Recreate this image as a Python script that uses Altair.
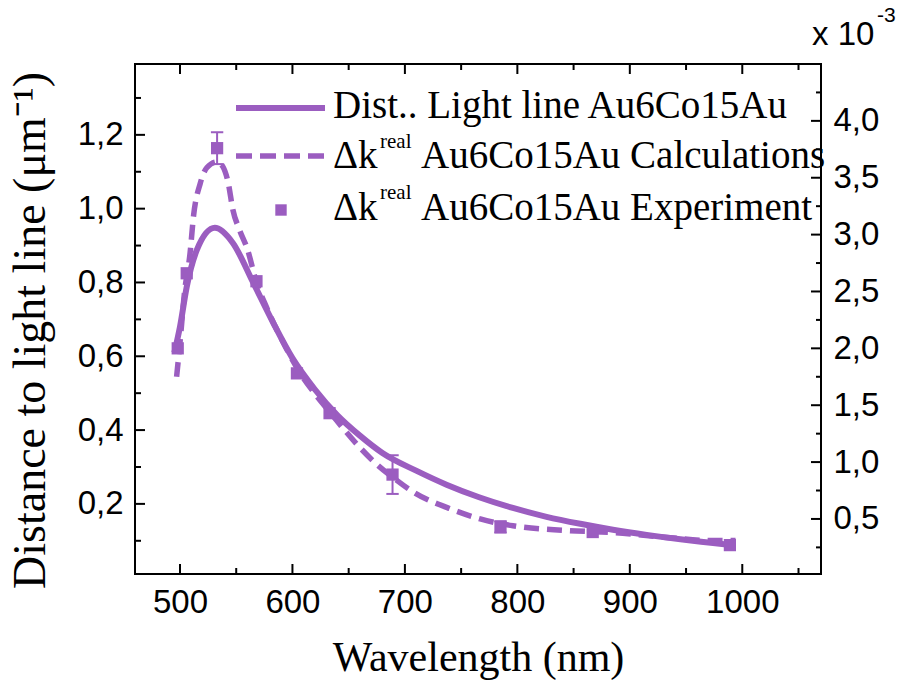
import altair as alt
import pandas as pd

# ---------------- data ----------------
# Distance to light line (left axis, um^-1)
wl_dist = [495, 500, 506, 515, 531, 547, 565, 583, 600, 620, 640, 660, 680, 710, 737, 766, 796,
           826, 856, 885, 915, 945, 974, 994]
dist = [0.61, 0.68, 0.788, 0.888, 0.948, 0.907, 0.80, 0.69, 0.595, 0.51, 0.44, 0.385, 0.338, 0.29,
        0.252, 0.218, 0.189, 0.165, 0.146, 0.13, 0.116, 0.104, 0.094, 0.087]

# Delta k real calculations (right axis, x 10^-3)
wl_calc = [497, 500, 504, 509, 512, 518, 524, 533, 538, 543, 547, 553, 560, 568, 577,
           595, 607, 620, 634, 657, 675, 690, 707, 743, 767, 796, 841, 885, 930, 974, 994]
calc = [1.75, 2.05, 2.49, 2.84, 3.16, 3.45, 3.59, 3.64, 3.60, 3.45, 3.22, 3.04, 2.87, 2.58, 2.36,
        1.99, 1.78, 1.60, 1.43, 1.16, 0.98, 0.86, 0.74, 0.58, 0.50, 0.44, 0.40, 0.38, 0.34, 0.31, 0.31]

# Delta k real experiment (right axis, x 10^-3)
wl_exp = [498, 506, 533, 568, 604, 633, 689, 785, 867, 989]
exp_val = [2.0, 2.66, 3.76, 2.59, 1.78, 1.43, 0.89, 0.43, 0.385, 0.27]
exp_err = [0, 0, 0.14, 0, 0, 0, 0.17, 0.05, 0, 0]

# tick values
x_major = [500, 600, 700, 800, 900, 1000]
x_minor = [550, 650, 750, 850, 950, 1050]
left_major = [0.2, 0.4, 0.6, 0.8, 1.0, 1.2]
left_minor = [0.1, 0.3, 0.5, 0.7, 0.9, 1.1, 1.3]
right_major = [0.5, 1.0, 1.5, 2.0, 2.5, 3.0, 3.5, 4.0]
right_minor = [0.25, 0.75, 1.25, 1.75, 2.25, 2.75, 3.25, 3.75, 4.25]

legend_labels = ["Dist.. Light line Au6Co15Au", "Au6Co15Au Calculations", "Au6Co15Au Experiment"]

# ---------------- styling ----------------
PURPLE = "#9B5DC0"
W, H = 686, 510
SERIF = "Liberation Serif"
SANS = "Liberation Sans"

x_scale = alt.Scale(domain=[460, 1070], nice=False, zero=False)
yl_scale = alt.Scale(domain=[0.01, 1.392], nice=False, zero=False)
yr_scale = alt.Scale(domain=[0.016, 4.50], nice=False, zero=False)

comma_fmt = "replace(format(datum.value, '.1f'), '.', ',')"

# the same axis objects are reused in every layer so that they merge cleanly
ax_x = alt.Axis(values=x_major, format="d", title="Wavelength (nm)",
                titleFontSize=42, titleY=96, titleBaseline="alphabetic")
ax_left = alt.Axis(orient="left", values=left_major, labelExpr=comma_fmt,
                   title="Distance to light line (μm⁻¹)", titleFontSize=46,
                   titleAngle=270, titleX=-91, titleY=266,
                   titleAlign="center", titleBaseline="alphabetic")
ax_right = alt.Axis(orient="right", values=right_major, labelExpr=comma_fmt, title="")

dist_df = pd.DataFrame({"wl": wl_dist, "d": dist})
calc_df = pd.DataFrame({"wl": wl_calc, "k": calc})
exp_df = pd.DataFrame({"wl": wl_exp, "k": exp_val, "err": exp_err})

one = alt.Data(values=[{"a": 1}])

# ---------------- left (distance) layers ----------------
solid = alt.Chart(dist_df).mark_line(
    color=PURPLE, strokeWidth=6, interpolate="monotone"
).encode(
    x=alt.X("wl:Q", scale=x_scale, axis=ax_x),
    y=alt.Y("d:Q", scale=yl_scale, axis=ax_left),
)


def yticks(vals, scale, ax, x0, x1):
    return alt.Chart(pd.DataFrame({"v": vals})).mark_rule(color="black", strokeWidth=2).encode(
        y=alt.Y("v:Q", scale=scale, axis=ax), x=alt.value(x0), x2=alt.value(x1))


def xticks(vals, y0, y1):
    return alt.Chart(pd.DataFrame({"v": vals})).mark_rule(color="black", strokeWidth=2).encode(
        x=alt.X("v:Q", scale=x_scale, axis=ax_x), y=alt.value(y0), y2=alt.value(y1))


def txt(s, x, y, size, font=SERIF):
    return alt.Chart(one).mark_text(
        text=s, font=font, fontSize=size, align="left", baseline="alphabetic", color="black"
    ).encode(x=alt.value(x), y=alt.value(y))


legend_layers = [
    alt.Chart(one).mark_rule(color=PURPLE, strokeWidth=6).encode(
        x=alt.value(101), x2=alt.value(190), y=alt.value(44)),
    txt(legend_labels[0], 198, 54, 39),
    alt.Chart(one).mark_rule(color=PURPLE, strokeWidth=5.5, strokeDash=[16, 8]).encode(
        x=alt.value(101), x2=alt.value(190), y=alt.value(92)),
    txt("Δk", 198, 104, 39),
    txt("real", 245, 84, 21),
    txt(legend_labels[1], 286, 104, 39),
    alt.Chart(one).mark_point(shape="square", filled=True, size=130, color=PURPLE, opacity=1).encode(
        x=alt.value(146), y=alt.value(146)),
    txt("Δk", 198, 156, 39),
    txt("real", 245, 135, 21),
    txt(legend_labels[2], 286, 156, 39),
    txt("x 10", 677, -19, 33, SANS),
    txt("-3", 742, -42, 21, SANS),
]

left = alt.layer(
    solid,
    yticks(left_major, yl_scale, ax_left, 0, 10),
    yticks(left_minor, yl_scale, ax_left, 0, 6),
    xticks(x_major, H, H - 10),
    xticks(x_minor, H, H - 6),
    xticks(x_major, 0, 10),
    xticks(x_minor, 0, 6),
    *legend_layers,
)

# ---------------- right (delta k) layers ----------------
dashed = alt.Chart(calc_df).mark_line(
    color=PURPLE, strokeWidth=5.5, strokeDash=[15, 8], interpolate="monotone"
).encode(
    x=alt.X("wl:Q", scale=x_scale, axis=ax_x),
    y=alt.Y("k:Q", scale=yr_scale, axis=ax_right),
)

err_base = alt.Chart(exp_df).transform_filter("datum.err > 0").transform_calculate(
    lo="datum.k - datum.err", hi="datum.k + datum.err",
    xl="datum.wl - 5.5", xr="datum.wl + 5.5")

err_v = err_base.mark_rule(color=PURPLE, strokeWidth=2).encode(
    x=alt.X("wl:Q", scale=x_scale, axis=ax_x),
    y=alt.Y("lo:Q", scale=yr_scale, axis=ax_right), y2="hi:Q")
cap_top = err_base.mark_rule(color=PURPLE, strokeWidth=2).encode(
    x=alt.X("xl:Q", scale=x_scale, axis=ax_x), x2="xr:Q",
    y=alt.Y("hi:Q", scale=yr_scale, axis=ax_right))
cap_bot = err_base.mark_rule(color=PURPLE, strokeWidth=2).encode(
    x=alt.X("xl:Q", scale=x_scale, axis=ax_x), x2="xr:Q",
    y=alt.Y("lo:Q", scale=yr_scale, axis=ax_right))

points = alt.Chart(exp_df).mark_point(
    shape="square", filled=True, size=150, color=PURPLE, opacity=1
).encode(
    x=alt.X("wl:Q", scale=x_scale, axis=ax_x),
    y=alt.Y("k:Q", scale=yr_scale, axis=ax_right),
)

right = alt.layer(
    dashed, err_v, cap_top, cap_bot, points,
    yticks(right_major, yr_scale, ax_right, W, W - 10),
    yticks(right_minor, yr_scale, ax_right, W, W - 5),
)

chart = alt.layer(left, right).resolve_scale(y="independent").properties(
    width=W, height=H,
    autosize=alt.AutoSizeParams(type="none"),
    padding={"left": 135, "top": 64, "right": 91, "bottom": 107},
    background="white",
).configure_view(
    stroke="black", strokeWidth=2
).configure_axis(
    labelFont=SANS, labelFontSize=33, labelColor="black",
    titleFont=SERIF, titleFontWeight="normal", titleColor="black",
    domain=False, ticks=False, tickSize=0, grid=False, labelPadding=12,
)

chart.save("out.html", embed_options={"renderer": "svg", "actions": False})
